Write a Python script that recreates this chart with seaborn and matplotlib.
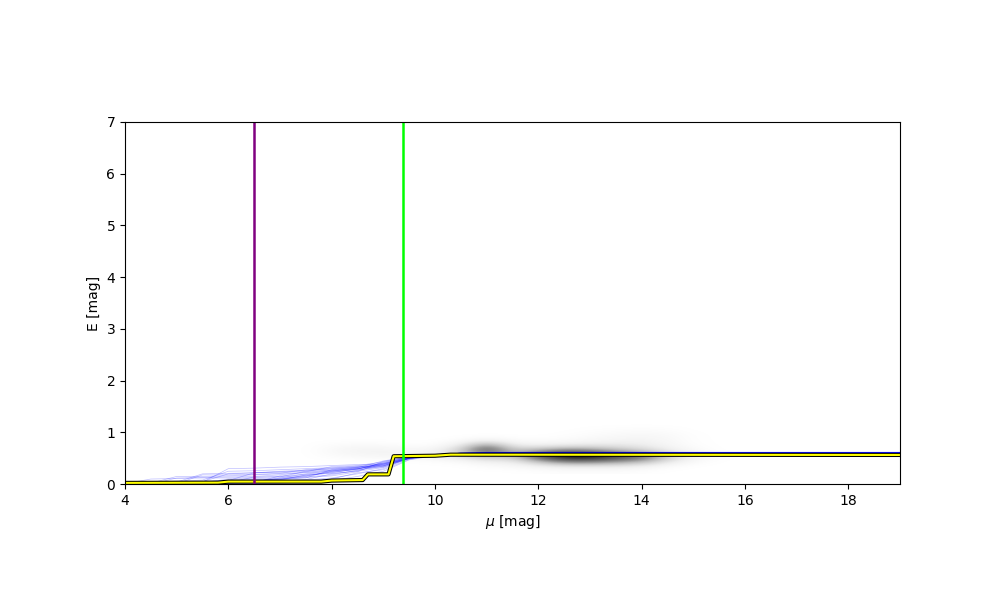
import matplotlib
matplotlib.use("Agg")
import matplotlib.pyplot as plt
import seaborn as sns
import numpy as np
import pandas as pd

# grey probability cloud, coarse table
dens_mu_edges = [7.25, 16.25]
dens_E_edges = [0.2, 1.2]
# rows: E = 0.25 ... 1.15 (step 0.1); cols: mu = 7.5 ... 16.0 (step 0.5)
dens = [
    [0.00, 0.00, 0.00, 0.00, 0.00, 0.00, 0.00, 0.00, 0.00, 0.01, 0.02, 0.02, 0.02, 0.01, 0.00, 0.00, 0.00, 0.00],
    [0.00, 0.00, 0.00, 0.00, 0.00, 0.00, 0.00, 0.03, 0.05, 0.10, 0.15, 0.15, 0.15, 0.10, 0.03, 0.00, 0.00, 0.00],
    [0.00, 0.00, 0.00, 0.00, 0.00, 0.02, 0.05, 0.15, 0.15, 0.40, 0.65, 0.65, 0.55, 0.45, 0.20, 0.05, 0.00, 0.00],
    [0.00, 0.03, 0.06, 0.08, 0.10, 0.12, 0.25, 0.40, 0.35, 0.80, 1.00, 1.00, 0.85, 0.70, 0.35, 0.10, 0.02, 0.00],
    [0.00, 0.05, 0.10, 0.10, 0.08, 0.10, 0.30, 0.80, 0.35, 0.45, 0.60, 0.55, 0.40, 0.30, 0.15, 0.05, 0.00, 0.00],
    [0.00, 0.03, 0.05, 0.04, 0.02, 0.02, 0.15, 0.55, 0.15, 0.12, 0.15, 0.18, 0.18, 0.15, 0.08, 0.02, 0.00, 0.00],
    [0.00, 0.00, 0.00, 0.00, 0.00, 0.00, 0.02, 0.10, 0.03, 0.02, 0.03, 0.06, 0.08, 0.10, 0.06, 0.01, 0.00, 0.00],
    [0.00, 0.00, 0.00, 0.00, 0.00, 0.00, 0.00, 0.00, 0.00, 0.00, 0.01, 0.03, 0.05, 0.06, 0.05, 0.01, 0.00, 0.00],
    [0.00, 0.00, 0.00, 0.00, 0.00, 0.00, 0.00, 0.00, 0.00, 0.00, 0.00, 0.01, 0.02, 0.03, 0.02, 0.00, 0.00, 0.00],
    [0.00, 0.00, 0.00, 0.00, 0.00, 0.00, 0.00, 0.00, 0.00, 0.00, 0.00, 0.00, 0.00, 0.00, 0.00, 0.00, 0.00, 0.00],
]

# sample reddening curves
mu_grid = [4, 4.5, 5, 5.5, 6, 6.5, 7, 7.5, 8, 8.5, 9, 9.5, 10, 10.5, 11, 19]
samples = [
    [0.01, 0.01, 0.02, 0.02, 0.03, 0.03, 0.05, 0.08, 0.12, 0.20, 0.30, 0.50, 0.56, 0.59, 0.60, 0.60],
    [0.00, 0.02, 0.15, 0.15, 0.16, 0.18, 0.20, 0.22, 0.25, 0.30, 0.40, 0.52, 0.57, 0.60, 0.61, 0.61],
    [0.00, 0.00, 0.01, 0.05, 0.20, 0.22, 0.24, 0.26, 0.30, 0.33, 0.38, 0.50, 0.55, 0.59, 0.60, 0.60],
    [0.01, 0.01, 0.01, 0.02, 0.02, 0.06, 0.10, 0.15, 0.25, 0.32, 0.45, 0.53, 0.57, 0.60, 0.61, 0.61],
    [0.00, 0.01, 0.01, 0.18, 0.18, 0.19, 0.21, 0.28, 0.31, 0.34, 0.36, 0.49, 0.56, 0.59, 0.60, 0.60],
    [0.01, 0.02, 0.02, 0.03, 0.04, 0.05, 0.12, 0.14, 0.18, 0.27, 0.35, 0.51, 0.57, 0.60, 0.61, 0.61],
    [0.00, 0.00, 0.03, 0.03, 0.10, 0.11, 0.12, 0.20, 0.26, 0.29, 0.42, 0.52, 0.56, 0.59, 0.60, 0.60],
    [0.01, 0.01, 0.01, 0.01, 0.02, 0.02, 0.03, 0.06, 0.10, 0.22, 0.28, 0.48, 0.56, 0.59, 0.60, 0.60],
    [0.00, 0.05, 0.06, 0.08, 0.25, 0.26, 0.28, 0.30, 0.32, 0.35, 0.40, 0.51, 0.56, 0.60, 0.61, 0.61],
    [0.02, 0.02, 0.03, 0.04, 0.06, 0.08, 0.10, 0.17, 0.22, 0.30, 0.37, 0.52, 0.57, 0.60, 0.61, 0.61],
    [0.00, 0.01, 0.02, 0.02, 0.03, 0.14, 0.15, 0.16, 0.24, 0.28, 0.33, 0.50, 0.56, 0.59, 0.60, 0.60],
    [0.01, 0.01, 0.01, 0.02, 0.03, 0.04, 0.06, 0.09, 0.20, 0.26, 0.39, 0.53, 0.57, 0.60, 0.61, 0.61],
    [0.00, 0.00, 0.12, 0.13, 0.14, 0.15, 0.18, 0.23, 0.27, 0.31, 0.34, 0.49, 0.56, 0.59, 0.60, 0.60],
    [0.01, 0.02, 0.02, 0.03, 0.05, 0.07, 0.09, 0.13, 0.16, 0.24, 0.44, 0.53, 0.57, 0.60, 0.61, 0.61],
    [0.00, 0.01, 0.01, 0.02, 0.08, 0.09, 0.10, 0.12, 0.28, 0.33, 0.38, 0.50, 0.56, 0.59, 0.60, 0.60],
    [0.01, 0.01, 0.02, 0.05, 0.06, 0.07, 0.08, 0.18, 0.21, 0.25, 0.32, 0.51, 0.57, 0.60, 0.61, 0.61],
    [0.00, 0.00, 0.01, 0.01, 0.02, 0.03, 0.16, 0.19, 0.23, 0.29, 0.41, 0.52, 0.56, 0.59, 0.60, 0.60],
    [0.01, 0.03, 0.04, 0.20, 0.21, 0.22, 0.25, 0.27, 0.29, 0.32, 0.36, 0.50, 0.56, 0.59, 0.61, 0.61],
    [0.00, 0.02, 0.03, 0.04, 0.30, 0.31, 0.33, 0.34, 0.36, 0.38, 0.39, 0.50, 0.56, 0.59, 0.60, 0.60],
    [0.00, 0.00, 0.00, 0.01, 0.01, 0.02, 0.02, 0.04, 0.07, 0.15, 0.25, 0.47, 0.55, 0.59, 0.61, 0.61],
    [0.01, 0.10, 0.11, 0.12, 0.12, 0.13, 0.14, 0.25, 0.27, 0.30, 0.35, 0.52, 0.57, 0.60, 0.62, 0.62],
    [0.00, 0.00, 0.05, 0.06, 0.07, 0.22, 0.23, 0.24, 0.34, 0.36, 0.43, 0.53, 0.57, 0.60, 0.61, 0.61],
]

# best fit
best_mu = [4, 5.8, 6.0, 7.8, 8.0, 8.6, 8.7, 9.1, 9.2, 10.0, 10.3, 19]
best_E = [0.025, 0.03, 0.05, 0.05, 0.07, 0.08, 0.19, 0.19, 0.54, 0.55, 0.57, 0.565]

mu_lines = [6.5, 9.39]
line_colors = ['purple', 'lime']

rows = []
for i, s in enumerate(samples):
    for m, e in zip(mu_grid, s):
        rows.append({'sample': i, 'mu': m, 'E': e})
df = pd.DataFrame(rows)

fig = plt.figure(figsize=(10, 6), dpi=100)
ax = fig.add_axes([0.125, 0.193, 0.775, 0.604])

ax.imshow(np.array(dens), origin='lower', cmap='Greys', vmin=0, vmax=1,
          extent=dens_mu_edges + dens_E_edges, aspect='auto',
          interpolation='bicubic')

sns.lineplot(data=df, x='mu', y='E', units='sample', estimator=None, sort=False,
             color='blue', lw=0.5, alpha=0.25, ax=ax)

ax.plot(best_mu, best_E, color='black', lw=3)
ax.plot(best_mu, best_E, color='yellow', lw=1.5)

for m, c in zip(mu_lines, line_colors):
    ax.axvline(m, color=c, lw=1.8)

ax.set_xlim(4, 19)
ax.set_ylim(0, 7)
ax.set_xlabel(r'$\mu$ [mag]')
ax.set_ylabel('E [mag]')
fig.savefig('out.png')
